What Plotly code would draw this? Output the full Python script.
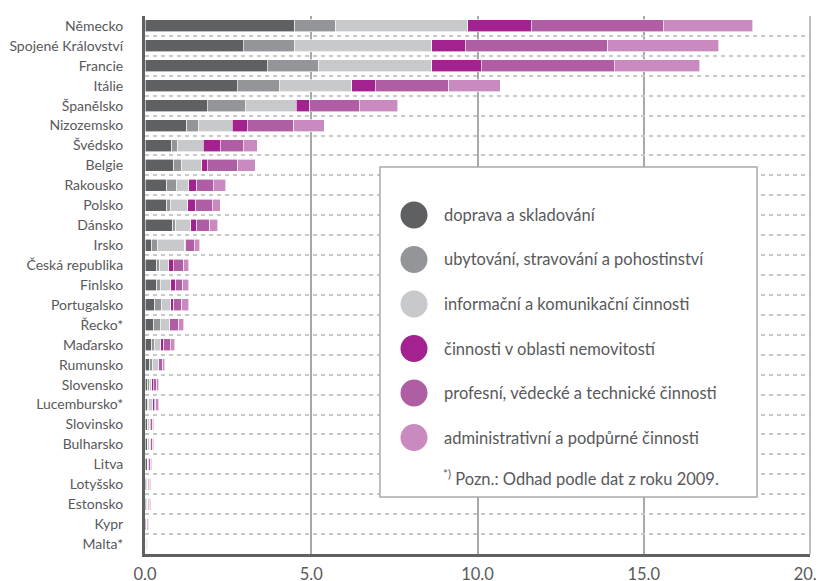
import plotly.graph_objects as go

countries = ["Německo", "Spojené Království", "Francie", "Itálie", "Španělsko", "Nizozemsko",
             "Švédsko", "Belgie", "Rakousko", "Polsko", "Dánsko", "Irsko", "Česká republika",
             "Finlsko", "Portugalsko", "Řecko*", "Maďarsko", "Rumunsko", "Slovensko",
             "Lucembursko*", "Slovinsko", "Bulharsko", "Litva", "Lotyšsko", "Estonsko", "Kypr", "Malta*"]

series_names = ["doprava a skladování", "ubytování, stravování a pohostinství",
                "informační a komunikační činnosti", "činnosti v oblasti nemovitostí",
                "profesní, vědecké a technické činnosti", "administrativní a podpůrné činnosti"]

doprava = [4.51, 2.96, 3.67, 2.77, 1.87, 1.26, 0.80, 0.87, 0.66, 0.66, 0.84, 0.21, 0.36, 0.36,
           0.30, 0.26, 0.21, 0.15, 0.09, 0.08, 0.06, 0.06, 0.06, 0.05, 0.05, 0.03, 0.02]
ubytovani = [1.23, 1.55, 1.56, 1.27, 1.14, 0.36, 0.19, 0.24, 0.30, 0.10, 0.08, 0.18, 0.09, 0.10,
             0.20, 0.20, 0.09, 0.08, 0.04, 0.04, 0.02, 0.03, 0.01, 0.01, 0.01, 0.01, 0.01]
informacni = [3.96, 4.11, 3.39, 2.18, 1.54, 1.01, 0.76, 0.60, 0.35, 0.52, 0.46, 0.81, 0.26, 0.31,
              0.27, 0.27, 0.17, 0.17, 0.07, 0.12, 0.06, 0.05, 0.02, 0.02, 0.02, 0.01, 0.01]
nemovitosti = [1.91, 1.01, 1.49, 0.71, 0.41, 0.44, 0.51, 0.16, 0.25, 0.25, 0.18, 0.03, 0.14, 0.16,
               0.10, 0.02, 0.10, 0.02, 0.05, 0.04, 0.02, 0.03, 0.02, 0.02, 0.02, 0.02, 0.01]
profesni = [3.97, 4.29, 4.00, 2.21, 1.48, 1.41, 0.70, 0.92, 0.49, 0.49, 0.39, 0.25, 0.32, 0.21,
            0.24, 0.26, 0.19, 0.11, 0.10, 0.05, 0.07, 0.06, 0.06, 0.04, 0.05, 0.04, 0.02]
administrativni = [2.70, 3.34, 2.58, 1.54, 1.16, 0.91, 0.42, 0.52, 0.38, 0.24, 0.24, 0.17, 0.14, 0.17,
                   0.20, 0.15, 0.14, 0.06, 0.06, 0.08, 0.03, 0.03, 0.04, 0.03, 0.03, 0.02, 0.01]

x_tickvals = [0, 5, 10, 15, 20]
x_ticktext = ["0.0", "5.0", "10.0", "15.0", "20.0"]
footnote = "<sup>*)</sup> Pozn.: Odhad podle dat z roku 2009."

colors = ["#5f6062", "#939598", "#c8c9cb", "#a3228f", "#b05ea3", "#c98bbf"]
TEXT = "#58595b"
GRID = "#a7a9ac"
FONT = "Lato"

all_series = [doprava, ubytovani, informacni, nemovitosti, profesni, administrativni]

fig = go.Figure()
for name, vals, col in zip(series_names, all_series, colors):
    fig.add_trace(go.Bar(
        y=countries, x=vals, name=name, orientation="h",
        marker=dict(color=col, line=dict(color="white", width=0.6)),
        showlegend=False,
    ))

# page body has an 8px margin, so the figure is drawn 8px in from the window corner
OFF = 8
W, H = 824 - OFF, 581 - OFF
ML, MR, MT, MB = 145 - OFF, 14, 16 - OFF, 27
PW, PH = W - ML - MR, H - MT - MB

def px(x):
    return (x - OFF - ML) / PW

def py(y):
    return 1 - (y - OFF - MT) / PH

shapes = []
annotations = []
# right-hand border gridline at the end of the axis (paper-referenced so it is not clipped)
shapes.append(dict(type="line", xref="paper", yref="paper", layer="above",
                   x0=1, x1=1, y0=0, y1=1,
                   line=dict(color=GRID, width=1.5)))
# legend box
shapes.append(dict(type="rect", xref="paper", yref="paper", layer="above",
                   x0=px(380), x1=px(757), y0=py(497), y1=py(167),
                   fillcolor="white", line=dict(color=GRID, width=1.5)))
r = 13.5
for i, (name, col) in enumerate(zip(series_names, colors)):
    cy = 215 + i * 44.5
    shapes.append(dict(type="circle", xref="paper", yref="paper", layer="above",
                       x0=px(414 - r), x1=px(414 + r), y0=py(cy + r), y1=py(cy - r),
                       fillcolor=col, line=dict(width=0)))
    annotations.append(dict(text=name, xref="paper", yref="paper", x=px(442), y=py(cy),
                            xanchor="left", yanchor="middle", showarrow=False,
                            font=dict(family=FONT, size=16.5, color=TEXT)))
annotations.append(dict(text=footnote, xref="paper", yref="paper", x=px(441), y=py(478),
                        xanchor="left", yanchor="middle", showarrow=False,
                        font=dict(family=FONT, size=16.5, color=TEXT)))

fig.update_layout(
    barmode="stack",
    bargap=0.4,
    width=W, height=H,
    margin=dict(l=ML, r=MR, t=MT, b=MB, autoexpand=False),
    plot_bgcolor="white", paper_bgcolor="white",
    font=dict(family=FONT, color=TEXT),
    shapes=shapes,
    annotations=annotations,
    xaxis=dict(range=[0, 20], tickvals=x_tickvals, ticktext=x_ticktext,
               showgrid=True, gridcolor=GRID, gridwidth=1.5,
               zeroline=False, showline=True, linecolor="#5f6062", linewidth=3,
               ticks="", ticklabelstandoff=3, ticklabeloverflow="allow",
               tickfont=dict(family=FONT, size=16.5, color=TEXT)),
    yaxis=dict(categoryorder="array", categoryarray=countries, autorange="reversed",
               tickson="boundaries", showgrid=True, gridcolor="#c8c9cb", gridwidth=1.5,
               griddash="4px,4px", showline=True, linecolor="#5f6062", linewidth=3,
               ticks="", ticklabelstandoff=16,
               tickfont=dict(family=FONT, size=14, color=TEXT)),
)

fig.write_html("out.html")
